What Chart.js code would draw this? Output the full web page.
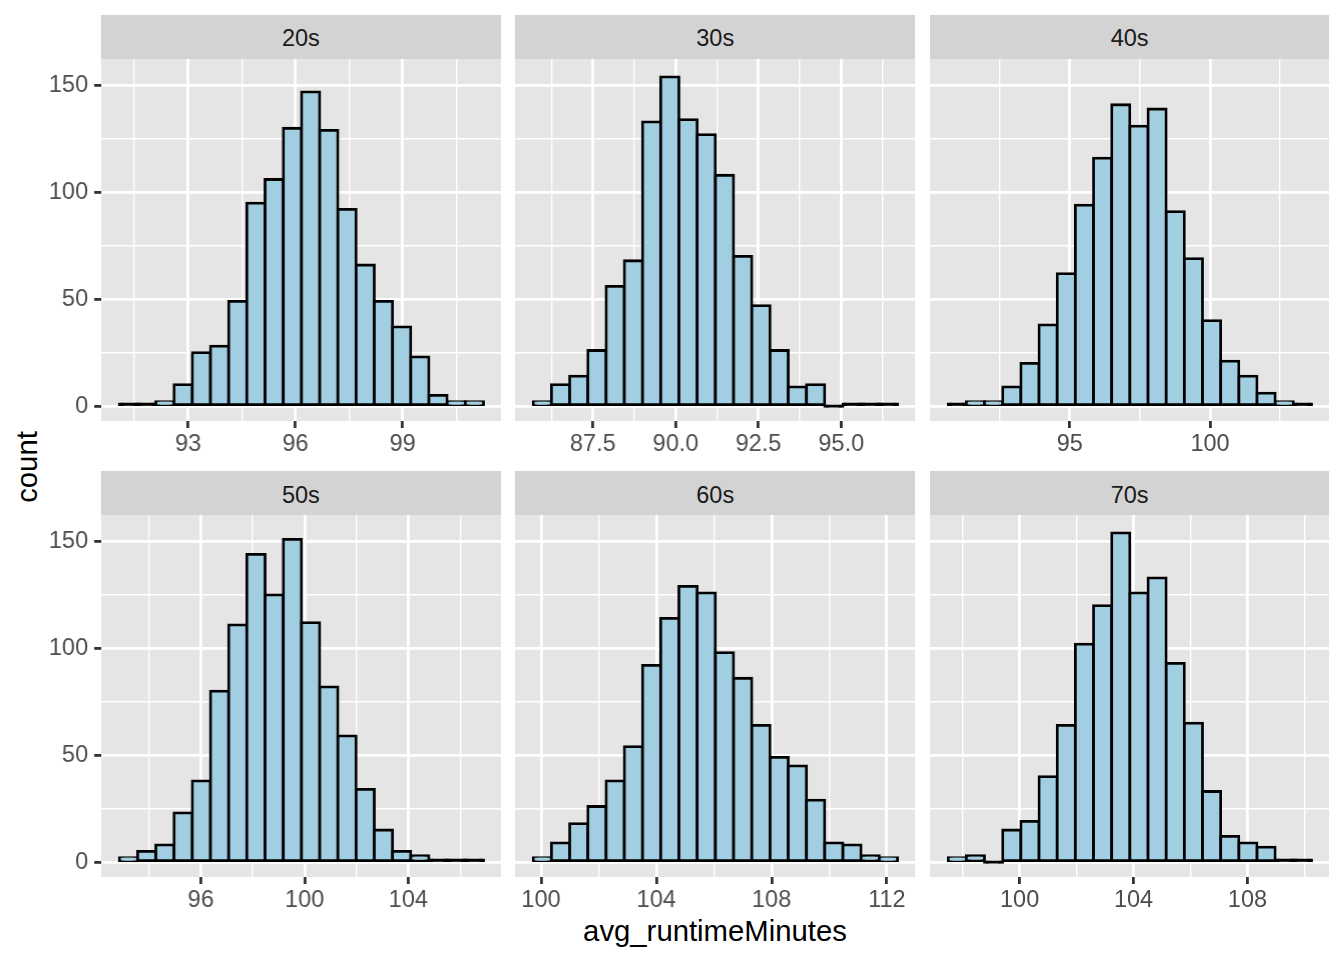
<!DOCTYPE html>
<html lang="en">

<head>
    <meta charset="UTF-8">
    <title>avg_runtimeMinutes by decade</title>
    <style>
        body {
            margin: 0;
            background: #ffffff;
            font-family: "Liberation Sans", Arial, sans-serif;
        }

        #fig {
            position: relative;
            width: 1344px;
            height: 960px;
            overflow: hidden;
        }

        .strip {
            position: absolute;
            box-sizing: border-box;
            padding-top: 4px;
            background: #D3D3D3;
            color: #1A1A1A;
            font-size: 23.5px;
            display: flex;
            align-items: center;
            justify-content: center;
        }

        .cell {
            position: absolute;
        }

        .title {
            position: absolute;
            color: #000000;
            font-size: 29.3px;
            white-space: nowrap;
        }
    </style>
</head>

<body>
    <div id="fig">
        <div class="title" id="ytitle" style="left:27px; top:467px; transform: translate(-50%, -50%) rotate(-90deg);">count</div>
        <div class="title" id="xtitle" style="left:715px; top:931px; transform: translate(-50%, -50%);">avg_runtimeMinutes</div>
    </div>

    <script src="https://cdn.jsdelivr.net/npm/chart.js"></script>
    <script>
        // facets and histogram counts (20 bins each)
        const facets = ['20s', '30s', '40s', '50s', '60s', '70s'];
        const counts20s = [1, 1, 2, 10, 25, 28, 49, 95, 106, 130, 147, 129, 92, 66, 49, 37, 23, 5, 2, 2];
        const counts30s = [2, 10, 14, 26, 56, 68, 133, 154, 134, 127, 108, 70, 47, 26, 9, 10, 0, 1, 1, 1];
        const counts40s = [1, 2, 2, 9, 20, 38, 62, 94, 116, 141, 131, 139, 91, 69, 40, 21, 14, 6, 2, 1];
        const counts50s = [2, 5, 8, 23, 38, 80, 111, 144, 125, 151, 112, 82, 59, 34, 15, 5, 3, 1, 1, 1];
        const counts60s = [2, 9, 18, 26, 38, 54, 92, 114, 129, 126, 98, 86, 64, 49, 45, 29, 9, 8, 3, 2];
        const counts70s = [2, 3, 0, 15, 19, 40, 64, 102, 120, 154, 126, 133, 93, 65, 33, 12, 9, 7, 1, 1];
        const allCounts = [counts20s, counts30s, counts40s, counts50s, counts60s, counts70s];

        // left edge of the first bin and bin width, in minutes
        const binStart = [91.08, 85.70, 90.66, 92.86, 99.73, 97.49];
        const binWidth = [0.509, 0.55, 0.648, 0.702, 0.632, 0.638];

        // x tick labels (major) and minor grid positions per facet
        const xMajor = [
            ['93', '96', '99'],
            ['87.5', '90.0', '92.5', '95.0'],
            ['95', '100'],
            ['96', '100', '104'],
            ['100', '104', '108', '112'],
            ['100', '104', '108']
        ];
        const xMinor = [
            [91.5, 94.5, 97.5, 100.5],
            [86.25, 88.75, 91.25, 93.75, 96.25],
            [92.5, 97.5, 102.5],
            [94, 98, 102, 106],
            [102, 106, 110],
            [98, 102, 106, 110]
        ];
        const yMajor = ['0', '50', '100', '150'];
        const yMinor = [25, 75, 125];
        const yRange = [-7.0, 162.4];

        // page layout (px)
        const panelLeft = [101, 515.4, 929.8];
        const panelW = 399.7;
        const stripTop = [14.7, 471];
        const stripH = 44.3;
        const panelH = 362;
        const axisH = 50;
        const yAxisW = 101;

        const barFill = '#A1CFE1';
        const lineW = 2.8;

        const panelBg = {
            id: 'panelBg',
            beforeDraw(chart) {
                const { ctx, chartArea: a } = chart;
                ctx.save();
                ctx.fillStyle = '#E5E5E5';
                ctx.fillRect(a.left, a.top, a.width, a.height);
                ctx.restore();
            }
        };

        function buildTicks(major, minor) {
            const list = major.map(s => ({ value: parseFloat(s), label: s, major: true }))
                .concat(minor.map(v => ({ value: v, label: '', major: false })));
            list.sort((a, b) => a.value - b.value);
            return list;
        }

        function noPadding(s) {
            s.paddingTop = 0;
            s.paddingBottom = 0;
            s.paddingLeft = 0;
            s.paddingRight = 0;
        }

        const tickFont = { family: '"Liberation Sans", Arial, sans-serif', size: 23.5 };

        function makePanel(i) {
            const col = i % 3;
            const row = Math.floor(i / 3);
            const fig = document.getElementById('fig');

            const strip = document.createElement('div');
            strip.className = 'strip';
            strip.style.left = panelLeft[col] + 'px';
            strip.style.top = stripTop[row] + 'px';
            strip.style.width = panelW + 'px';
            strip.style.height = stripH + 'px';
            strip.textContent = facets[i];
            fig.appendChild(strip);

            const extraL = col === 0 ? yAxisW : 0;
            const cell = document.createElement('div');
            cell.className = 'cell';
            cell.style.left = (panelLeft[col] - extraL) + 'px';
            cell.style.top = (stripTop[row] + stripH) + 'px';
            cell.style.width = (panelW + extraL) + 'px';
            cell.style.height = (panelH + axisH) + 'px';
            const canvas = document.createElement('canvas');
            cell.appendChild(canvas);
            fig.appendChild(cell);

            const start = binStart[i];
            const w = binWidth[i];
            const counts = allCounts[i];
            const xTicks = buildTicks(xMajor[i], xMinor[i]);
            const yTicks = buildTicks(yMajor, yMinor);
            const isMajor = t => t && t.major;

            new Chart(canvas, {
                type: 'bar',
                data: {
                    datasets: [{
                        data: counts.map((c, k) => ({ x: start + (k + 0.5) * w, y: c })),
                        // bins with 0 or 1 counts show only as a black outline
                        backgroundColor: ctx => (ctx.raw && ctx.raw.y <= 1) ? '#000000' : barFill,
                        borderColor: '#000000',
                        borderWidth: lineW,
                        inflateAmount: lineW / 2,
                        borderSkipped: false,
                        barPercentage: 1,
                        categoryPercentage: 1,
                        minBarLength: 0.5
                    }]
                },
                options: {
                    responsive: true,
                    maintainAspectRatio: false,
                    animation: false,
                    layout: { padding: 0, autoPadding: false },
                    plugins: {
                        legend: { display: false },
                        tooltip: { enabled: false }
                    },
                    scales: {
                        x: {
                            type: 'linear',
                            offset: false,
                            min: start - w,
                            max: start + 21 * w,
                            afterBuildTicks: s => { s.ticks = xTicks.map(t => ({ value: t.value, major: t.major })); },
                            afterFit: s => { s.height = axisH; noPadding(s); },
                            border: { display: false },
                            grid: {
                                offset: false,
                                color: '#FFFFFF',
                                lineWidth: ctx => isMajor(ctx.tick) ? lineW : lineW / 2,
                                tickLength: 7,
                                tickWidth: lineW,
                                tickColor: ctx => isMajor(ctx.tick) ? '#333333' : 'rgba(0,0,0,0)'
                            },
                            ticks: {
                                autoSkip: false,
                                maxRotation: 0,
                                padding: 2,
                                color: '#4D4D4D',
                                font: tickFont,
                                callback: (v, k) => xTicks[k] ? xTicks[k].label : ''
                            }
                        },
                        y: {
                            min: yRange[0],
                            max: yRange[1],
                            afterBuildTicks: s => { s.ticks = yTicks.map(t => ({ value: t.value, major: t.major })); },
                            afterFit: s => { s.width = col === 0 ? yAxisW : 0; noPadding(s); },
                            border: { display: false },
                            grid: {
                                color: '#FFFFFF',
                                lineWidth: ctx => isMajor(ctx.tick) ? lineW : lineW / 2,
                                drawTicks: col === 0,
                                tickLength: 7,
                                tickWidth: lineW,
                                tickColor: ctx => isMajor(ctx.tick) ? '#333333' : 'rgba(0,0,0,0)'
                            },
                            ticks: {
                                display: col === 0,
                                autoSkip: false,
                                padding: 6,
                                color: '#4D4D4D',
                                font: tickFont,
                                callback: (v, k) => yTicks[k] ? yTicks[k].label : ''
                            }
                        }
                    }
                },
                plugins: [panelBg]
            });
        }

        facets.forEach((f, i) => makePanel(i));
    </script>
</body>

</html>
